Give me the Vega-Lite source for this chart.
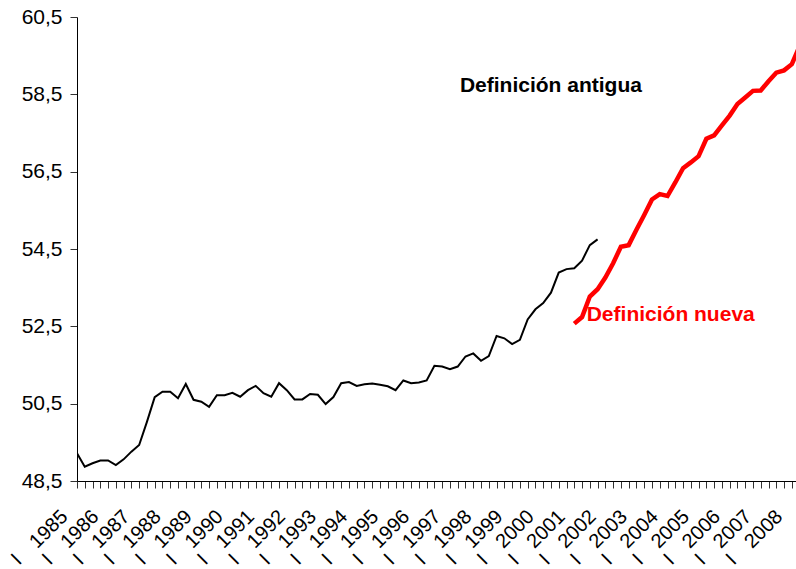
{
  "$schema": "https://vega.github.io/schema/vega-lite/v6.json",
  "autosize": {"type": "none"},
  "width": 719,
  "height": 464,
  "padding": {"left": 77, "top": 17, "right": 0, "bottom": 88},
  "background": "white",
  "config": {"view": {"stroke": null}, "font": "Liberation Sans"},
  "datasets": {
    "series": [
      {"t": 1985.0, "v": 49.22, "s": "antigua"},
      {"t": 1985.25, "v": 48.87, "s": "antigua"},
      {"t": 1985.5, "v": 48.96, "s": "antigua"},
      {"t": 1985.75, "v": 49.03, "s": "antigua"},
      {"t": 1986.0, "v": 49.03, "s": "antigua"},
      {"t": 1986.25, "v": 48.91, "s": "antigua"},
      {"t": 1986.5, "v": 49.06, "s": "antigua"},
      {"t": 1986.75, "v": 49.26, "s": "antigua"},
      {"t": 1987.0, "v": 49.43, "s": "antigua"},
      {"t": 1987.25, "v": 50.03, "s": "antigua"},
      {"t": 1987.5, "v": 50.67, "s": "antigua"},
      {"t": 1987.75, "v": 50.81, "s": "antigua"},
      {"t": 1988.0, "v": 50.81, "s": "antigua"},
      {"t": 1988.25, "v": 50.64, "s": "antigua"},
      {"t": 1988.5, "v": 51.01, "s": "antigua"},
      {"t": 1988.75, "v": 50.60, "s": "antigua"},
      {"t": 1989.0, "v": 50.55, "s": "antigua"},
      {"t": 1989.25, "v": 50.42, "s": "antigua"},
      {"t": 1989.5, "v": 50.72, "s": "antigua"},
      {"t": 1989.75, "v": 50.72, "s": "antigua"},
      {"t": 1990.0, "v": 50.78, "s": "antigua"},
      {"t": 1990.25, "v": 50.68, "s": "antigua"},
      {"t": 1990.5, "v": 50.85, "s": "antigua"},
      {"t": 1990.75, "v": 50.96, "s": "antigua"},
      {"t": 1991.0, "v": 50.77, "s": "antigua"},
      {"t": 1991.25, "v": 50.68, "s": "antigua"},
      {"t": 1991.5, "v": 51.03, "s": "antigua"},
      {"t": 1991.75, "v": 50.85, "s": "antigua"},
      {"t": 1992.0, "v": 50.61, "s": "antigua"},
      {"t": 1992.25, "v": 50.61, "s": "antigua"},
      {"t": 1992.5, "v": 50.75, "s": "antigua"},
      {"t": 1992.75, "v": 50.73, "s": "antigua"},
      {"t": 1993.0, "v": 50.49, "s": "antigua"},
      {"t": 1993.25, "v": 50.67, "s": "antigua"},
      {"t": 1993.5, "v": 51.03, "s": "antigua"},
      {"t": 1993.75, "v": 51.06, "s": "antigua"},
      {"t": 1994.0, "v": 50.96, "s": "antigua"},
      {"t": 1994.25, "v": 51.00, "s": "antigua"},
      {"t": 1994.5, "v": 51.02, "s": "antigua"},
      {"t": 1994.75, "v": 50.99, "s": "antigua"},
      {"t": 1995.0, "v": 50.95, "s": "antigua"},
      {"t": 1995.25, "v": 50.85, "s": "antigua"},
      {"t": 1995.5, "v": 51.10, "s": "antigua"},
      {"t": 1995.75, "v": 51.03, "s": "antigua"},
      {"t": 1996.0, "v": 51.05, "s": "antigua"},
      {"t": 1996.25, "v": 51.10, "s": "antigua"},
      {"t": 1996.5, "v": 51.48, "s": "antigua"},
      {"t": 1996.75, "v": 51.46, "s": "antigua"},
      {"t": 1997.0, "v": 51.39, "s": "antigua"},
      {"t": 1997.25, "v": 51.46, "s": "antigua"},
      {"t": 1997.5, "v": 51.72, "s": "antigua"},
      {"t": 1997.75, "v": 51.80, "s": "antigua"},
      {"t": 1998.0, "v": 51.61, "s": "antigua"},
      {"t": 1998.25, "v": 51.73, "s": "antigua"},
      {"t": 1998.5, "v": 52.25, "s": "antigua"},
      {"t": 1998.75, "v": 52.19, "s": "antigua"},
      {"t": 1999.0, "v": 52.04, "s": "antigua"},
      {"t": 1999.25, "v": 52.15, "s": "antigua"},
      {"t": 1999.5, "v": 52.68, "s": "antigua"},
      {"t": 1999.75, "v": 52.94, "s": "antigua"},
      {"t": 2000.0, "v": 53.10, "s": "antigua"},
      {"t": 2000.25, "v": 53.37, "s": "antigua"},
      {"t": 2000.5, "v": 53.89, "s": "antigua"},
      {"t": 2000.75, "v": 53.98, "s": "antigua"},
      {"t": 2001.0, "v": 54.00, "s": "antigua"},
      {"t": 2001.25, "v": 54.20, "s": "antigua"},
      {"t": 2001.5, "v": 54.60, "s": "antigua"},
      {"t": 2001.75, "v": 54.75, "s": "antigua"},
      {"t": 2001.0, "v": 52.57, "s": "nueva"},
      {"t": 2001.25, "v": 52.74, "s": "nueva"},
      {"t": 2001.5, "v": 53.27, "s": "nueva"},
      {"t": 2001.75, "v": 53.46, "s": "nueva"},
      {"t": 2002.0, "v": 53.76, "s": "nueva"},
      {"t": 2002.25, "v": 54.13, "s": "nueva"},
      {"t": 2002.5, "v": 54.56, "s": "nueva"},
      {"t": 2002.75, "v": 54.60, "s": "nueva"},
      {"t": 2003.0, "v": 55.00, "s": "nueva"},
      {"t": 2003.25, "v": 55.38, "s": "nueva"},
      {"t": 2003.5, "v": 55.78, "s": "nueva"},
      {"t": 2003.75, "v": 55.92, "s": "nueva"},
      {"t": 2004.0, "v": 55.87, "s": "nueva"},
      {"t": 2004.25, "v": 56.22, "s": "nueva"},
      {"t": 2004.5, "v": 56.59, "s": "nueva"},
      {"t": 2004.75, "v": 56.74, "s": "nueva"},
      {"t": 2005.0, "v": 56.90, "s": "nueva"},
      {"t": 2005.25, "v": 57.35, "s": "nueva"},
      {"t": 2005.5, "v": 57.44, "s": "nueva"},
      {"t": 2005.75, "v": 57.70, "s": "nueva"},
      {"t": 2006.0, "v": 57.95, "s": "nueva"},
      {"t": 2006.25, "v": 58.25, "s": "nueva"},
      {"t": 2006.5, "v": 58.42, "s": "nueva"},
      {"t": 2006.75, "v": 58.59, "s": "nueva"},
      {"t": 2007.0, "v": 58.60, "s": "nueva"},
      {"t": 2007.25, "v": 58.84, "s": "nueva"},
      {"t": 2007.5, "v": 59.06, "s": "nueva"},
      {"t": 2007.75, "v": 59.12, "s": "nueva"},
      {"t": 2008.0, "v": 59.28, "s": "nueva"},
      {"t": 2008.25, "v": 59.75, "s": "nueva"}
    ],
    "notas": [
      {"t": 1997.32, "v": 58.72, "label": "Definición antigua", "s": "antigua"},
      {"t": 2001.40, "v": 52.79, "label": "Definición nueva", "s": "nueva"}
    ]
  },
  "resolve": {"axis": {"x": "independent"}},
  "layer": [
    {
      "data": {"name": "series"},
      "transform": [{"filter": "datum.s === 'antigua'"}],
      "mark": {"type": "line", "color": "#000000", "strokeWidth": 2, "clip": true},
      "encoding": {
        "x": {
          "field": "t", "type": "quantitative",
          "scale": {"domain": [1985, 2008.134], "nice": false, "zero": false},
          "axis": {
            "orient": "bottom", "title": null, "grid": false,
            "values": [1985, 1985.25, 1985.5, 1985.75, 1986, 1986.25, 1986.5, 1986.75, 1987, 1987.25, 1987.5, 1987.75, 1988, 1988.25, 1988.5, 1988.75, 1989, 1989.25, 1989.5, 1989.75, 1990, 1990.25, 1990.5, 1990.75, 1991, 1991.25, 1991.5, 1991.75, 1992, 1992.25, 1992.5, 1992.75, 1993, 1993.25, 1993.5, 1993.75, 1994, 1994.25, 1994.5, 1994.75, 1995, 1995.25, 1995.5, 1995.75, 1996, 1996.25, 1996.5, 1996.75, 1997, 1997.25, 1997.5, 1997.75, 1998, 1998.25, 1998.5, 1998.75, 1999, 1999.25, 1999.5, 1999.75, 2000, 2000.25, 2000.5, 2000.75, 2001, 2001.25, 2001.5, 2001.75, 2002, 2002.25, 2002.5, 2002.75, 2003, 2003.25, 2003.5, 2003.75, 2004, 2004.25, 2004.5, 2004.75, 2005, 2005.25, 2005.5, 2005.75, 2006, 2006.25, 2006.5, 2006.75, 2007, 2007.25, 2007.5, 2007.75, 2008],
            "labelExpr": "datum.value % 1 === 0 ? format(datum.value, 'd') : ''",
            "labelOverlap": false, "labelFlush": false, "labelBound": false,
            "labelAngle": -45, "labelAlign": "right", "labelBaseline": "top",
            "labelOffset": -20, "labelPadding": 18,
            "labelFont": "Liberation Sans", "labelFontSize": 20, "labelColor": "#000000",
            "tickSize": 7, "tickColor": "#333333", "domainColor": "#000000", "domainWidth": 1, "tickWidth": 1
          }
        },
        "y": {
          "field": "v", "type": "quantitative",
          "scale": {"domain": [48.5, 60.5], "nice": false, "zero": false},
          "axis": {
            "title": null, "grid": false,
            "values": [48.5, 50.5, 52.5, 54.5, 56.5, 58.5, 60.5],
            "labelExpr": "replace(format(datum.value, '.1f'), '.', ',')",
            "labelFont": "Liberation Sans", "labelFontSize": 21, "labelColor": "#000000",
            "labelPadding": 8, "tickSize": 7, "tickColor": "#333333", "domainColor": "#000000"
          }
        }
      }
    },
    {
      "data": {"name": "series"},
      "transform": [{"filter": "datum.s === 'nueva'"}],
      "mark": {"type": "line", "color": "#FF0000", "strokeWidth": 4.5, "clip": true},
      "encoding": {
        "x": {
          "field": "t", "type": "quantitative",
          "scale": {"domain": [1985, 2008.134], "nice": false, "zero": false},
          "axis": {
            "orient": "bottom", "title": null, "grid": false, "domain": false, "ticks": false, "tickSize": 0,
            "values": [1985, 1986, 1987, 1988, 1989, 1990, 1991, 1992, 1993, 1994, 1995, 1996, 1997, 1998, 1999, 2000, 2001, 2002, 2003, 2004, 2005, 2006, 2007, 2008],
            "labelExpr": "'I'",
            "labelOverlap": false, "labelFlush": false, "labelBound": false,
            "labelAngle": -45, "labelAlign": "right", "labelBaseline": "top",
            "labelOffset": -66, "labelPadding": 69,
            "labelFont": "Liberation Sans", "labelFontSize": 20, "labelColor": "#000000"
          }
        },
        "y": {
          "field": "v", "type": "quantitative",
          "scale": {"domain": [48.5, 60.5], "nice": false, "zero": false},
          "axis": {
            "title": null, "grid": false,
            "values": [48.5, 50.5, 52.5, 54.5, 56.5, 58.5, 60.5],
            "labelExpr": "replace(format(datum.value, '.1f'), '.', ',')",
            "labelFont": "Liberation Sans", "labelFontSize": 21, "labelColor": "#000000",
            "labelPadding": 8, "tickSize": 7, "tickColor": "#333333", "domainColor": "#000000"
          }
        }
      }
    },
    {
      "data": {"name": "notas"},
      "mark": {"type": "text", "align": "left", "baseline": "middle", "font": "Liberation Sans", "fontWeight": "bold", "fontSize": 21},
      "encoding": {
        "x": {"field": "t", "type": "quantitative", "axis": null, "scale": {"domain": [1985, 2008.134], "nice": false, "zero": false}},
        "y": {
          "field": "v", "type": "quantitative",
          "scale": {"domain": [48.5, 60.5], "nice": false, "zero": false},
          "axis": {
            "title": null, "grid": false,
            "values": [48.5, 50.5, 52.5, 54.5, 56.5, 58.5, 60.5],
            "labelExpr": "replace(format(datum.value, '.1f'), '.', ',')",
            "labelFont": "Liberation Sans", "labelFontSize": 21, "labelColor": "#000000",
            "labelPadding": 8, "tickSize": 7, "tickColor": "#333333", "domainColor": "#000000"
          }
        },
        "text": {"field": "label", "type": "nominal"},
        "color": {"field": "s", "type": "nominal", "scale": {"domain": ["antigua", "nueva"], "range": ["#000000", "#FF0000"]}, "legend": null}
      }
    }
  ]
}
